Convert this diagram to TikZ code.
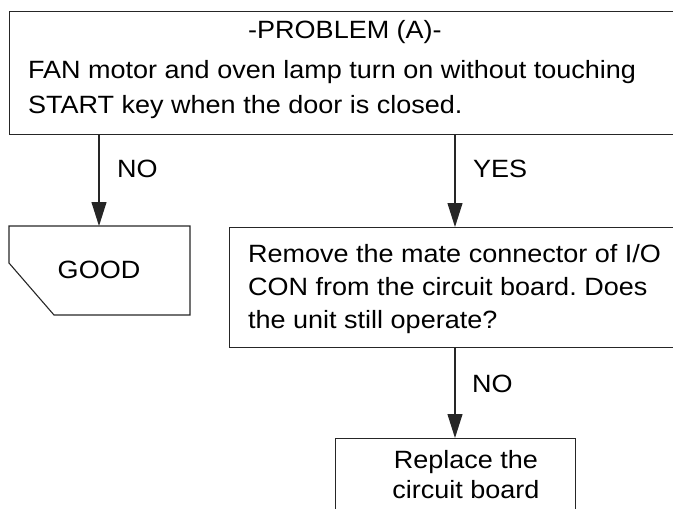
\documentclass[tikz,border=0pt]{standalone}
\usepackage{fontspec}
\newfontfamily\dfont[FakeStretch=1.08]{Liberation Sans}
\newcommand\dfs{\dfont\fontsize{25}{33}\selectfont\frenchspacing}
\usetikzlibrary{arrows.meta}
\tikzset{
  ln/.style={draw=black!85, line width=1.1pt},
  arr/.style={draw=black!85, line width=1.1pt, -{Triangle[length=24pt,width=15pt]}},
  lbl/.style={font=\dfs, inner sep=0pt, anchor=base west},
  clbl/.style={font=\dfs, inner sep=0pt, anchor=base},
  boxnode/.style={ln, inner sep=0pt, anchor=north west},
}
\begin{document}
\begin{tikzpicture}[x=1pt,y=-1pt]
\useasboundingbox (0,0) rectangle (673,509);
\clip (0,0) rectangle (673,509);
% boxes
\node[boxnode, minimum width=700pt, minimum height=123pt] (top) at (9,11) {};
\node[boxnode, minimum width=500pt, minimum height=120pt] (remove) at (229,227) {};
\node[boxnode, minimum width=240pt, minimum height=110pt] (replace) at (335,438) {};
\coordinate (goodtop) at (99,226);
\draw[ln] (9,226) -- (190,226) -- (190,315) -- (54,315) -- (9,263) -- cycle;
\coordinate (yx) at (455,0);
% texts
\node[clbl] (t1) at (345,38) {-PROBLEM (A)-};
\node[lbl] (t2) at (28,78) {FAN motor and oven lamp turn on without touching};
\node[lbl] (t3) at (28,113) {START key when the door is closed.};
\node[clbl] (good) at (99,278) {GOOD};
\node[lbl] (r1) at (248,262) {Remove the mate connector of I/O};
\node[lbl] (r2) at (248,295) {CON from the circuit board. Does};
\node[lbl] (r3) at (248,328) {the unit still operate?};
\node[clbl] (p1) at (466,468) {Replace the};
\node[clbl] (p2) at (466,498) {circuit board};
% connectors
\draw[arr] (top.south -| goodtop) -- (goodtop);
\draw[arr] (top.south -| yx) -- (remove.north -| yx);
\draw[arr] (remove.south -| yx) -- (replace.north -| yx);
% labels
\node[lbl] (no1) at (117,177) {NO};
\node[lbl] (yes) at (473,177) {YES};
\node[lbl] (no2) at (472,392) {NO};
\end{tikzpicture}
\end{document}
